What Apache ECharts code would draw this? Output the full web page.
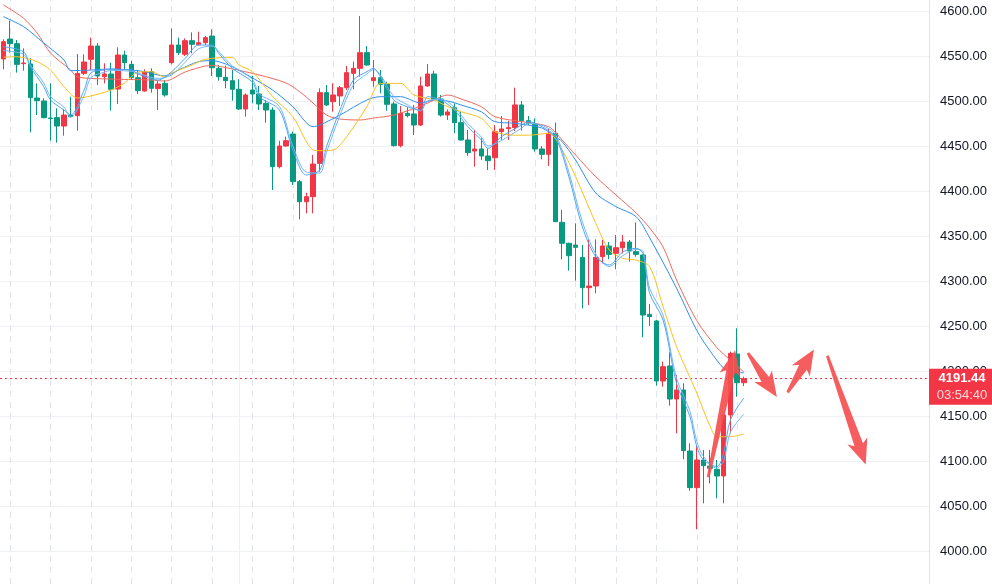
<!DOCTYPE html>
<html>
<head>
<meta charset="utf-8">
<script src="https://cdn.jsdelivr.net/npm/echarts@6/dist/echarts.min.js"></script>
<style>
  html, body { margin: 0; padding: 0; background: #fff; }
  #chart { width: 992px; height: 584px; }
</style>
</head>
<body>
<div id="chart"></div>
<script>
// candle values (red = up, green = down)
const opens = [
  4546.7, 4568.9, 4563.7, 4541.5, 4541.1, 4503.3, 4500.0, 4481.1, 4481.5, 4472.2,
  4484.4, 4483.7, 4530.7, 4546.3, 4561.1, 4527.0, 4530.0, 4513.3, 4551.1, 4540.7,
  4525.9, 4511.1, 4532.6, 4513.7, 4519.6, 4542.6, 4562.2, 4551.9, 4567.0, 4562.6,
  4564.8, 4572.2, 4536.3, 4526.3, 4522.6, 4513.0, 4491.1, 4512.2, 4507.8, 4497.4,
  4490.0, 4427.0, 4450.0, 4463.3, 4410.4, 4388.1, 4393.7, 4430.7, 4509.3, 4499.3,
  4505.6, 4514.8, 4530.7, 4536.3, 4553.7, 4522.6, 4525.9, 4518.5, 4496.7, 4450.4,
  4486.3, 4485.6, 4473.3, 4516.7, 4530.0, 4502.2, 4484.4, 4492.6, 4475.9, 4456.7,
  4444.4, 4446.7, 4438.9, 4437.0, 4465.9, 4469.3, 4470.4, 4495.6, 4478.1, 4474.1,
  4446.7, 4440.7, 4464.1, 4365.2, 4341.9, 4340.0, 4326.3, 4292.6, 4294.4, 4327.0,
  4338.9, 4330.7, 4337.0, 4343.3, 4332.6, 4328.9, 4262.9, 4255.6, 4188.9, 4205.6,
  4168.9, 4178.9, 4111.1, 4070.4, 4101.1, 4094.4, 4090.7, 4083.3, 4151.1, 4218.9,
  4187.0
];
const closes = [
  4565.9, 4563.7, 4540.7, 4542.2, 4503.7, 4500.4, 4481.5, 4480.4, 4472.2, 4484.4,
  4482.6, 4530.7, 4543.3, 4561.1, 4527.8, 4530.0, 4513.0, 4551.1, 4542.6, 4525.9,
  4511.5, 4532.6, 4514.1, 4518.9, 4506.7, 4562.2, 4553.7, 4567.0, 4563.0, 4564.8,
  4570.4, 4537.0, 4527.0, 4522.6, 4513.0, 4491.1, 4506.7, 4507.8, 4496.7, 4490.0,
  4427.0, 4450.0, 4455.9, 4410.4, 4388.1, 4393.7, 4430.0, 4509.3, 4495.6, 4506.7,
  4514.8, 4531.5, 4536.3, 4553.7, 4540.0, 4525.9, 4518.5, 4496.3, 4450.4, 4486.3,
  4483.7, 4473.3, 4516.7, 4530.0, 4502.2, 4484.4, 4487.8, 4475.9, 4456.7, 4442.6,
  4446.7, 4438.9, 4433.7, 4465.9, 4468.9, 4470.4, 4495.6, 4478.1, 4475.2, 4446.7,
  4440.7, 4464.1, 4365.9, 4341.9, 4328.1, 4337.4, 4292.6, 4294.4, 4326.3, 4338.9,
  4329.6, 4337.0, 4343.3, 4333.3, 4329.6, 4262.2, 4260.4, 4188.9, 4204.8, 4168.9,
  4178.9, 4111.5, 4070.4, 4101.1, 4094.8, 4091.9, 4083.3, 4151.1, 4219.6, 4187.0,
  4191.44
];
const lows = [
  4535.2, 4553.7, 4531.5, 4533.7, 4465.2, 4484.4, 4480.7, 4455.9, 4453.7, 4461.5,
  4481.9, 4467.0, 4528.9, 4534.4, 4517.8, 4519.6, 4489.3, 4496.7, 4534.4, 4523.3,
  4507.8, 4510.4, 4509.3, 4490.0, 4504.8, 4540.7, 4551.1, 4550.0, 4553.0, 4561.9,
  4562.2, 4527.8, 4522.6, 4514.1, 4500.4, 4490.0, 4482.6, 4497.4, 4490.0, 4475.9,
  4401.1, 4425.2, 4449.3, 4406.7, 4368.5, 4375.2, 4375.2, 4421.5, 4494.4, 4488.1,
  4494.4, 4512.2, 4513.0, 4527.0, 4539.3, 4515.9, 4508.5, 4489.3, 4449.3, 4448.5,
  4481.9, 4462.2, 4472.2, 4515.9, 4501.1, 4482.6, 4478.9, 4464.1, 4455.9, 4438.9,
  4427.0, 4434.4, 4423.3, 4423.3, 4456.7, 4456.7, 4466.7, 4467.0, 4473.3, 4443.7,
  4435.2, 4427.8, 4365.9, 4324.1, 4311.5, 4300.4, 4269.6, 4273.3, 4286.3, 4319.6,
  4324.1, 4313.0, 4330.7, 4321.5, 4327.0, 4237.4, 4250.0, 4183.7, 4182.6, 4161.5,
  4130.7, 4101.9, 4067.0, 4024.1, 4053.0, 4075.2, 4058.5, 4053.0, 4130.7, 4171.5,
  4183.3
];
const highs = [
  4568.5, 4589.3, 4567.8, 4558.5, 4547.4, 4519.6, 4503.0, 4519.6, 4491.9, 4491.1,
  4504.8, 4552.2, 4551.9, 4570.4, 4564.4, 4541.9, 4542.6, 4559.6, 4555.9, 4544.8,
  4533.7, 4535.2, 4536.3, 4523.3, 4523.3, 4580.7, 4570.4, 4569.6, 4576.3, 4577.0,
  4572.2, 4579.6, 4540.0, 4539.3, 4534.4, 4524.1, 4508.5, 4527.8, 4516.7, 4501.1,
  4493.0, 4455.9, 4460.4, 4465.9, 4412.2, 4398.1, 4440.0, 4514.1, 4517.8, 4519.6,
  4516.7, 4538.9, 4543.7, 4594.4, 4561.1, 4545.6, 4534.4, 4521.5, 4499.3, 4494.4,
  4493.0, 4495.6, 4527.0, 4541.1, 4533.7, 4506.7, 4490.7, 4497.4, 4488.1, 4467.8,
  4467.8, 4458.6, 4447.0, 4473.3, 4483.3, 4478.1, 4514.8, 4500.0, 4483.3, 4480.7,
  4450.0, 4469.6, 4476.0, 4378.9, 4342.6, 4364.1, 4340.0, 4346.3, 4346.3, 4345.6,
  4343.3, 4351.1, 4351.0, 4345.6, 4365.0, 4329.6, 4274.4, 4256.7, 4210.4, 4220.7,
  4195.6, 4186.3, 4119.6, 4117.8, 4112.2, 4112.2, 4101.1, 4153.0, 4221.5, 4247.4,
  4193.7
];

// moving average lines: [candle index, value]
const maRed = [
  [0, 4606.7], [3, 4592], [5, 4575.6], [7, 4553.3], [10, 4534.4], [11, 4526.7], [16, 4524.4],
  [22, 4523.3], [24, 4522.2], [27, 4532.2], [30, 4538.9], [31, 4539.4], [34, 4535.6], [38, 4528.9],
  [42, 4520], [44, 4510.4], [46, 4497.8], [48, 4484.4], [50, 4480], [53, 4478.9], [55, 4481.1],
  [58, 4484.4], [62, 4494.4], [64, 4501.1], [66, 4506.7], [68, 4502.2], [71, 4493.7], [73, 4482.6],
  [77, 4477], [81, 4471.5], [83, 4456.7], [85, 4440], [88, 4415.9], [91, 4395.6], [94, 4375.6],
  [96, 4358.9], [98, 4337.8], [100, 4301.1], [103, 4256], [106, 4226], [108, 4212], [110, 4199]
];
const maBlue = [
  [0, 4593.7], [3, 4582.6], [6, 4564.4], [9, 4545.6], [10, 4533.7], [13, 4534.4], [16, 4535.6],
  [19, 4534.4], [21, 4532.6], [24, 4527.8], [26, 4534.4], [29, 4543.7], [31, 4544.8], [34, 4538.1],
  [37, 4525.6], [40, 4512.2], [43, 4493.7], [46, 4471.5], [47, 4473.3], [50, 4484.4], [54, 4501.1],
  [56, 4504.8], [59, 4504.8], [62, 4497.8], [64, 4501.1], [66, 4500], [68, 4495.6], [71, 4488],
  [73, 4477], [76, 4475.2], [80, 4470], [82, 4460.3], [83, 4454.8], [85, 4434.4], [88, 4397.8],
  [91, 4382.6], [94, 4371.5], [96, 4348], [100, 4292], [103, 4245], [105, 4222], [107, 4203],
  [108, 4199], [110, 4198]
];
const maYellow = [
  [0, 4548.6], [2, 4549.2], [5, 4543.7], [7, 4534.4], [9, 4515.9], [11, 4503.3], [13, 4505.6],
  [16, 4512.2], [18, 4520], [20, 4532], [22, 4532.6], [24, 4526.7], [25, 4531.1], [28, 4540],
  [30, 4546.3], [34, 4548.6], [35, 4540], [37, 4532.6], [40, 4504.8], [43, 4482.6], [46, 4445.6],
  [47, 4444.8], [49, 4445.6], [51, 4460.3], [54, 4493.7], [56, 4519.6], [59, 4519.6], [61, 4506.7],
  [64, 4501.1], [66, 4493.7], [68, 4488.1], [71, 4480.8], [73, 4466], [76, 4462], [78, 4462],
  [81, 4464.1], [83, 4445.6], [85, 4415.9], [88, 4364.1], [90, 4334.4], [92, 4325.2], [94, 4323.3],
  [96, 4315.9], [98, 4271.4], [100, 4227], [103, 4175.6], [105, 4138.1], [106, 4127], [108, 4127],
  [110, 4130]
];
const maFast1 = [
  [0, 4560.3], [3, 4554.8], [4, 4538.1], [6, 4515.9], [7, 4501.1], [9, 4490], [10, 4484.4],
  [12, 4512.2], [13, 4531.4], [15, 4534.4], [16, 4535.2], [19, 4534.4], [20, 4530], [23, 4523.3],
  [25, 4532.6], [27, 4547.4], [29, 4562.2], [31, 4562.2], [32, 4553], [34, 4536.3], [37, 4521],
  [38, 4504.8], [41, 4490], [43, 4445.6], [45, 4417.8], [47, 4423.3], [48, 4449.2], [50, 4490],
  [52, 4523.3], [54, 4532.6], [55, 4536.3], [56, 4527], [58, 4501.1], [60, 4493.7], [62, 4490],
  [63, 4504.8], [65, 4501.1], [67, 4490], [69, 4471.5], [71, 4456.7], [72, 4447.4], [74, 4460.3],
  [77, 4473.3], [78, 4477], [80, 4471.5], [82, 4460.3], [84, 4415.9], [86, 4360.3], [88, 4327],
  [90, 4317.8], [92, 4332.2], [94, 4336.3], [95, 4330.8], [96, 4286.3], [98, 4256.7], [100, 4186.3],
  [102, 4149.2], [103, 4116], [104, 4101.1], [106, 4093.7], [107, 4108.9], [108, 4145.6], [110, 4170]
];
const maFast2 = [
  [0, 4556], [3, 4552], [4, 4540], [6, 4520], [7, 4505], [9, 4493], [10, 4482], [12, 4506],
  [13, 4526], [15, 4532], [16, 4534], [19, 4533], [20, 4531], [23, 4525], [25, 4529], [27, 4543],
  [29, 4558], [31, 4561], [32, 4555], [34, 4539], [37, 4524], [38, 4508], [41, 4494], [43, 4450],
  [45, 4421], [47, 4420], [48, 4443], [50, 4484], [52, 4518], [54, 4530], [55, 4535], [56, 4529],
  [58, 4505], [60, 4496], [62, 4489], [63, 4500], [65, 4502], [67, 4493], [69, 4475], [71, 4460],
  [72, 4450], [74, 4456], [77, 4470], [78, 4475], [80, 4473], [82, 4463], [84, 4421], [86, 4366],
  [88, 4330], [90, 4316], [92, 4328], [94, 4335], [95, 4333], [96, 4292], [98, 4262], [100, 4192],
  [102, 4155], [103, 4122], [104, 4105], [106, 4092], [107, 4100], [108, 4132], [110, 4152]
];

const lastPrice = 4191.44;
const countdown = '03:54:40';
const emptySlots = 27;
const yTicks = [4000, 4050, 4100, 4150, 4200, 4250, 4300, 4350, 4400, 4450, 4500, 4550, 4600];
const sessionLines = [1, 7, 13, 19, 25, 31, 37, 43, 49, 55, 61, 67, 73, 79, 85, 91, 97, 103, 109];

// hand-drawn arrows, in chart units: [candle index, price]
const arrows = [
  [[104.7, 4082], [108.7, 4223]],
  [[110.6, 4220], [114.9, 4171]],
  [[116.5, 4176], [120.4, 4224]],
  [[122.4, 4217], [128.1, 4096]]
];

const UP = '#f23645';
const DOWN = '#089981';

const categories = opens.map((_, i) => String(i))
  .concat(Array.from({length: emptySlots}, (_, i) => String(opens.length + i)));
const candles = opens.map((o, i) => [o, closes[i], lows[i], highs[i]]);

const chart = echarts.init(document.getElementById('chart'));

const maLine = (data, color) => ({
  type: 'line',
  data: data,
  showSymbol: false,
  smooth: 0.3,
  clip: false,
  silent: true,
  z: 3,
  lineStyle: {color: color, width: 1},
  xAxisIndex: 0,
  yAxisIndex: 0
});

chart.setOption({
  animation: false,
  backgroundColor: '#fff',
  grid: [
    {left: -2, right: 63, top: 11, bottom: 33},
    {left: -2, right: 63, top: 0, bottom: 0}
  ],
  xAxis: [
    {type: 'category', data: categories, gridIndex: 0, show: false, boundaryGap: true},
    {type: 'category', data: categories, gridIndex: 1, show: false, boundaryGap: true}
  ],
  yAxis: [
    {
      type: 'value', gridIndex: 0, position: 'right',
      min: yTicks[0], max: yTicks[yTicks.length - 1], interval: 50,
      axisLine: {show: false}, axisTick: {show: false},
      axisLabel: {
        margin: 11, color: '#131722', fontSize: 13, fontFamily: 'Liberation Sans',
        formatter: v => v.toFixed(2)
      },
      splitLine: {lineStyle: {color: '#f0f1f5', width: 1}}
    },
    {
      type: 'value', gridIndex: 1, position: 'right', min: 0, max: 1,
      axisLine: {show: true, lineStyle: {color: '#e0e3eb'}},
      axisTick: {show: false}, axisLabel: {show: false}, splitLine: {show: false}
    }
  ],
  series: [
    {
      // vertical session separators, kept under the candles
      type: 'line',
      xAxisIndex: 1, yAxisIndex: 1,
      data: [],
      silent: true,
      z: 0,
      markLine: {
        z: 0,
        symbol: 'none', silent: true, animation: false,
        label: {show: false},
        lineStyle: {color: '#e1e4eb', width: 1, type: [6, 5]},
        data: sessionLines.map(i => ({xAxis: i}))
          .concat([{xAxis: 35, lineStyle: {color: '#eef0f4', type: 'solid'}}])
      }
    },
    {
      type: 'candlestick',
      data: candles,
      barWidth: 5,
      z: 2,
      xAxisIndex: 0, yAxisIndex: 0,
      itemStyle: {color: UP, color0: DOWN, borderColor: UP, borderColor0: DOWN, borderWidth: 1},
      markLine: {
        z: 1,
        symbol: 'none', silent: true, animation: false,
        label: {show: false},
        lineStyle: {color: UP, width: 1, type: [2, 3]},
        data: [{yAxis: lastPrice}]
      }
    },
    maLine(maRed, '#f06a5f'),
    maLine(maBlue, '#2f8ff0'),
    maLine(maYellow, '#fcc11e'),
    maLine(maFast2, '#74b8f5'),
    maLine(maFast1, '#4fa6f3')
  ]
});

// arrows and price tag placed through the axes
function toPx(pt) {
  const a = chart.convertToPixel({xAxisIndex: 0, yAxisIndex: 0}, [0, pt[1]]);
  const b = chart.convertToPixel({xAxisIndex: 0, yAxisIndex: 0}, [1, pt[1]]);
  return [a[0] + (b[0] - a[0]) * pt[0], a[1]];
}

function arrowPoints(t, p) {
  const dx = p[0] - t[0], dy = p[1] - t[1];
  const len = Math.hypot(dx, dy);
  const ux = dx / len, uy = dy / len;
  const nx = -uy, ny = ux;
  const headLen = 25, headHalf = 10.5, tailHalf = 1.4, shaftHalf = 4.5, notch = 4;
  const bx = p[0] - ux * headLen, by = p[1] - uy * headLen;
  const sx = p[0] - ux * (headLen - notch), sy = p[1] - uy * (headLen - notch);
  return [
    [t[0] + nx * tailHalf, t[1] + ny * tailHalf],
    [sx + nx * shaftHalf, sy + ny * shaftHalf],
    [bx + nx * headHalf, by + ny * headHalf],
    [p[0], p[1]],
    [bx - nx * headHalf, by - ny * headHalf],
    [sx - nx * shaftHalf, sy - ny * shaftHalf],
    [t[0] - nx * tailHalf, t[1] - ny * tailHalf]
  ];
}

const graphics = arrows.map(a => ({
  type: 'polygon',
  z: 100,
  silent: true,
  shape: {points: arrowPoints(toPx(a[0]), toPx(a[1]))},
  style: {fill: '#f44f50', opacity: 0.92}
}));

const py = chart.convertToPixel({yAxisIndex: 0}, lastPrice);
const axisX = 992 - 63;
graphics.push(
  {
    type: 'rect', z: 100, silent: true,
    shape: {x: axisX, y: py - 10, width: 992 - axisX, height: 36},
    style: {fill: UP}
  },
  {
    type: 'text', z: 101, silent: true, x: 962, y: py,
    style: {
      text: lastPrice.toFixed(2), fill: '#fff',
      font: 'bold 13px "Liberation Sans"',
      align: 'center', verticalAlign: 'middle', textAlign: 'center', textVerticalAlign: 'middle'
    }
  },
  {
    type: 'text', z: 101, silent: true, x: 962, y: py + 17,
    style: {
      text: countdown, fill: 'rgba(255,255,255,0.8)',
      font: '13px "Liberation Sans"',
      align: 'center', verticalAlign: 'middle', textAlign: 'center', textVerticalAlign: 'middle'
    }
  }
);

chart.setOption({graphic: graphics});
</script>
</body>
</html>
